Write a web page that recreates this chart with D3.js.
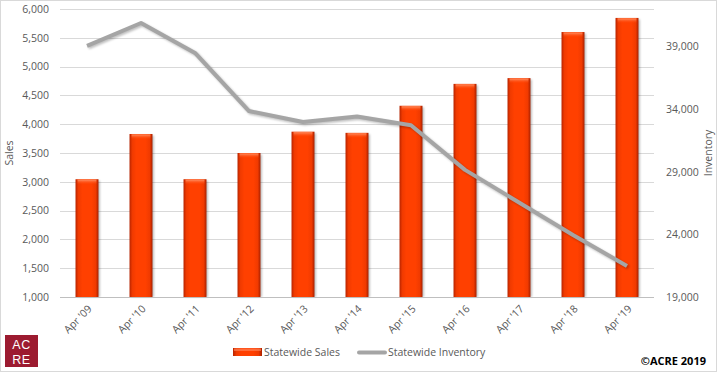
<!DOCTYPE html>
<html><head><meta charset="utf-8">
<script src="https://cdn.jsdelivr.net/npm/d3@7"></script>
<style>
html,body{margin:0;padding:0;background:#fff;}
svg{display:block;font-family:"Open Sans",sans-serif;}
</style></head>
<body>
<svg id="c" width="717" height="372"></svg>
<script>
const categories = ["Apr '09","Apr '10","Apr '11","Apr '12","Apr '13","Apr '14","Apr '15","Apr '16","Apr '17","Apr '18","Apr '19"];
const salesValues = [3045, 3830, 3045, 3500, 3870, 3850, 4320, 4700, 4800, 5600, 5845];
const inventoryValues = [39050, 40880, 38490, 33850, 32980, 33420, 32720, 29150, 26550, 23950, 21480];
const salesTicks = [1000,1500,2000,2500,3000,3500,4000,4500,5000,5500,6000];
const inventoryTicks = [19000,24000,29000,34000,39000];
const seriesNames = ["Statewide Sales","Statewide Inventory"];

const svg = d3.select("#c");
const W = 717, H = 372;
const m = {l:60, r:63, t:9, b:75};
const pw = W - m.l - m.r, ph = H - m.t - m.b;

svg.append("rect").attr("x",0.5).attr("y",0.5).attr("width",W-1).attr("height",H-1)
  .attr("fill","#fff").attr("stroke","#d9d9d9");

const defs = svg.append("defs");
const g1 = defs.append("linearGradient").attr("id","barG").attr("x1","0").attr("x2","1").attr("y1","0").attr("y2","0");
[[0,"#b82400"],[0.12,"#f03a00"],[0.3,"#ff4000"],[0.7,"#ff4000"],[0.88,"#f03a00"],[1,"#a82000"]].forEach(s=>g1.append("stop").attr("offset",s[0]).attr("stop-color",s[1]));
const g2 = defs.append("linearGradient").attr("id","topG").attr("x1","0").attr("x2","0").attr("y1","0").attr("y2","1");
[[0,"#ff9a70",0.9],[1,"#ff4000",0]].forEach(s=>g2.append("stop").attr("offset",s[0]).attr("stop-color",s[1]).attr("stop-opacity",s[2]));
const blur = defs.append("filter").attr("id","sh").attr("x","-20%").attr("y","-20%").attr("width","140%").attr("height","140%");
blur.append("feGaussianBlur").attr("stdDeviation",1.2);

const x = d3.scaleBand().domain(categories).range([m.l, m.l+pw]).paddingInner(0.575).paddingOuter(0.2875);
const yL = d3.scaleLinear().domain([1000,6000]).range([m.t+ph, m.t]);
const yR = d3.scaleLinear().domain([19000,42000]).range([m.t+ph, m.t]);

// gridlines
svg.append("g").selectAll("line").data(salesTicks).join("line")
  .attr("x1",m.l).attr("x2",m.l+pw).attr("y1",d=>Math.round(yL(d))+0.5).attr("y2",d=>Math.round(yL(d))+0.5)
  .attr("stroke","#d9d9d9").attr("stroke-width",1);

// left axis
const axL = svg.append("g").attr("transform",`translate(${m.l},0)`)
  .call(d3.axisLeft(yL).tickValues(salesTicks).tickFormat(d3.format(",")).tickSize(0).tickPadding(11));
axL.select(".domain").remove();
axL.selectAll("text").attr("fill","#595959").attr("font-size",10.5).attr("font-family","Open Sans, sans-serif");

// right axis
const axR = svg.append("g").attr("transform",`translate(${m.l+pw},0)`)
  .call(d3.axisRight(yR).tickValues(inventoryTicks).tickFormat(d3.format(",")).tickSize(0).tickPadding(12));
axR.select(".domain").remove();
axR.selectAll("text").attr("fill","#595959").attr("font-size",10.5).attr("font-family","Open Sans, sans-serif");

// bars
const bw = x.bandwidth();
const bars = svg.append("g");
bars.selectAll("rect.s").data(salesValues).join("rect").attr("class","s")
  .attr("x",(d,i)=>x(categories[i])+1.5).attr("y",d=>yL(d)+1.5)
  .attr("width",bw).attr("height",d=>yL(1000)-yL(d)-1.5)
  .attr("fill","#000").attr("opacity",0.25).attr("filter","url(#sh)");
bars.selectAll("rect.b").data(salesValues).join("rect").attr("class","b")
  .attr("x",(d,i)=>x(categories[i])).attr("y",d=>yL(d))
  .attr("width",bw).attr("height",d=>yL(1000)-yL(d))
  .attr("fill","url(#barG)");
bars.selectAll("rect.t").data(salesValues).join("rect").attr("class","t")
  .attr("x",(d,i)=>x(categories[i])+2).attr("y",d=>yL(d)+0.5)
  .attr("width",bw-4).attr("height",5)
  .attr("fill","url(#topG)");

// bottom axis line
svg.append("line").attr("x1",m.l).attr("x2",m.l+pw).attr("y1",Math.round(yL(1000))+0.5).attr("y2",Math.round(yL(1000))+0.5)
  .attr("stroke","#bfbfbf");

// line
const line = d3.line().x((d,i)=>x(categories[i])+bw/2).y(d=>yR(d));
svg.append("path").datum(inventoryValues).attr("d",line).attr("transform","translate(1.5,1.5)")
  .attr("fill","none").attr("stroke","#000").attr("stroke-opacity",0.25).attr("stroke-width",4).attr("filter","url(#sh)");
svg.append("path").datum(inventoryValues).attr("d",line)
  .attr("fill","none").attr("stroke","#a5a5a5").attr("stroke-width",4).attr("stroke-linejoin","round");

// x labels
svg.append("g").selectAll("text").data(categories).join("text")
  .attr("transform",d=>`translate(${x(d)+bw/2+3},${yL(1000)+10}) rotate(-45)`)
  .attr("text-anchor","end").attr("dy","0.35em")
  .attr("fill","#595959").attr("font-size",10.5).text(d=>d);

// axis titles
svg.append("text").attr("transform",`translate(13,${m.t+ph/2}) rotate(-90)`)
  .attr("text-anchor","middle").attr("fill","#595959").attr("font-size",10.5).text("Sales");
svg.append("text").attr("transform",`translate(712,${m.t+ph/2}) rotate(-90)`)
  .attr("text-anchor","middle").attr("fill","#595959").attr("font-size",10.5).text("Inventory");

// legend
const lg = svg.append("g");
lg.append("rect").attr("x",233).attr("y",348).attr("width",29).attr("height",8).attr("fill","url(#barG)");
lg.append("rect").attr("x",234).attr("y",348.5).attr("width",27).attr("height",2.5).attr("fill","#ff8a60").attr("opacity",0.6);
lg.append("text").attr("x",264).attr("y",356).attr("fill","#595959").attr("font-size",10.5).text(seriesNames[0]);
lg.append("line").attr("x1",359).attr("x2",385).attr("y1",352.5).attr("y2",352.5)
  .attr("stroke","#a5a5a5").attr("stroke-width",4).attr("stroke-linecap","round");
lg.append("text").attr("x",388).attr("y",356).attr("fill","#595959").attr("font-size",10.5).text(seriesNames[1]);

// logo
svg.append("rect").attr("x",5).attr("y",335).attr("width",33).attr("height",32).attr("fill","#9c1b30");
svg.append("text").attr("x",21.5).attr("y",349).attr("text-anchor","middle").attr("fill","#fff")
  .attr("font-size",12.5).attr("font-family","Liberation Sans, Arial, sans-serif").attr("letter-spacing","0.5").text("AC");
svg.append("text").attr("x",21.5).attr("y",364).attr("text-anchor","middle").attr("fill","#fff")
  .attr("font-size",12.5).attr("font-family","Liberation Sans, Arial, sans-serif").attr("letter-spacing","0.5").text("RE");

svg.append("text").attr("x",706).attr("y",365).attr("text-anchor","end").attr("fill","#000")
  .attr("font-size",11).attr("font-weight","bold").attr("font-family","Open Sans, sans-serif").text("©ACRE 2019");
</script>
</body></html>
